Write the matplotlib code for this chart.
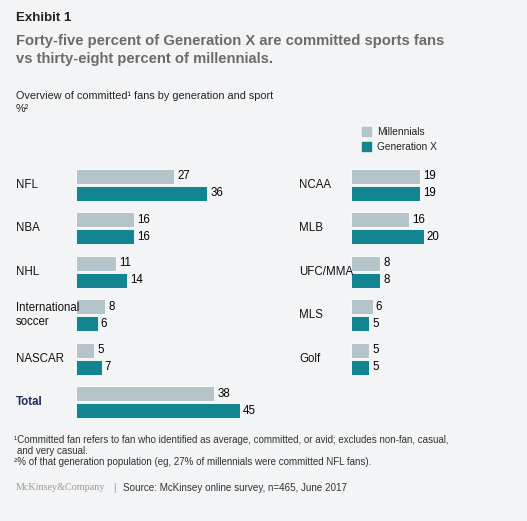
import matplotlib
matplotlib.use("Agg")
import matplotlib.pyplot as plt
from matplotlib.patches import Rectangle

left_sports = ["NFL", "NBA", "NHL", "International\nsoccer", "NASCAR", "Total"]
left_mill = [27, 16, 11, 8, 5, 38]
left_genx = [36, 16, 14, 6, 7, 45]
right_sports = ["NCAA", "MLB", "UFC/MMA", "MLS", "Golf"]
right_mill = [19, 16, 8, 6, 5]
right_genx = [19, 20, 8, 5, 5]

plt.rcParams["font.family"] = ["Liberation Sans", "DejaVu Sans"]

BG = "#f3f4f6"
C_MILL = "#b5c3cb"
C_GENX = "#128590"
W, H = 527, 521

fig = plt.figure(figsize=(W / 100, H / 100), dpi=100, facecolor=BG)


def px(x, y):
    return x / W, 1 - y / H


def txt(x, y, s, **kw):
    fig.text(*px(x, y), s, **kw)


def panel(x0, sports, mill, genx, label_x):
    ax = fig.add_axes([x0 / W, 1 - 424 / H, 164 / W, 261 / H])
    ax.set_xlim(0, 45)
    ax.set_ylim(5.5, -0.5)
    ax.axis("off")
    h, off = 0.345, 0.195
    for i, (s, m, g) in enumerate(zip(sports, mill, genx)):
        ax.barh(i - off, m, height=h, color=C_MILL, edgecolor="white", lw=0.6)
        ax.barh(i + off, g, height=h, color=C_GENX, edgecolor="white", lw=0.6)
        ax.text(m + 0.8, i - off, str(m), va="center", ha="left", fontsize=8.3)
        ax.text(g + 0.8, i + off, str(g), va="center", ha="left", fontsize=8.3)
        bold = s == "Total"
        ax.text(label_x, i, s, va="center", ha="left", fontsize=8.3,
                fontweight="bold" if bold else "normal",
                color="#1f2a5a" if bold else "#111", linespacing=1.2)
    return ax


panel(76, left_sports, left_mill, left_genx, (16 - 76) / 164 * 45)
panel(351, right_sports, right_mill, right_genx, (299 - 351) / 164 * 45)

txt(16, 18, "Exhibit 1", fontsize=9.5, fontweight="bold", color="#222", va="center")
txt(16, 41, "Forty-five percent of Generation X are committed sports fans",
    fontsize=10.6, fontweight="bold", color="#6b6b6b", va="center")
txt(16, 59, "vs thirty-eight percent of millennials.",
    fontsize=10.6, fontweight="bold", color="#6b6b6b", va="center")
txt(16, 96, "Overview of committed¹ fans by generation and sport",
    fontsize=7.8, color="#222", va="center")
txt(16, 109, "%²", fontsize=7.8, color="#222", va="center")

for y, lab, c in [(132, "Millennials", C_MILL), (147, "Generation X", C_GENX)]:
    fig.patches.append(Rectangle(px(362, y + 4), 9 / W, 9 / H, color=c,
                                 transform=fig.transFigure))
    txt(377, y, lab, fontsize=7.3, color="#222", va="center")

txt(14, 440, "¹Committed fan refers to fan who identified as average, committed, or avid; excludes non-fan, casual,",
    fontsize=7.0, color="#333", va="center")
txt(17, 451, "and very casual.", fontsize=7.0, color="#333", va="center")
txt(14, 462, "²% of that generation population (eg, 27% of millennials were committed NFL fans).",
    fontsize=7.0, color="#333", va="center")
txt(16, 488, "McKinsey&Company", fontsize=7.3, family="Liberation Serif", color="#999", va="center")
txt(113, 488, "|", fontsize=7, color="#999", va="center")
txt(123, 488, "Source: McKinsey online survey, n=465, June 2017", fontsize=7.1,
    color="#333", va="center")

fig.savefig("out.png", dpi=100, facecolor=BG)
